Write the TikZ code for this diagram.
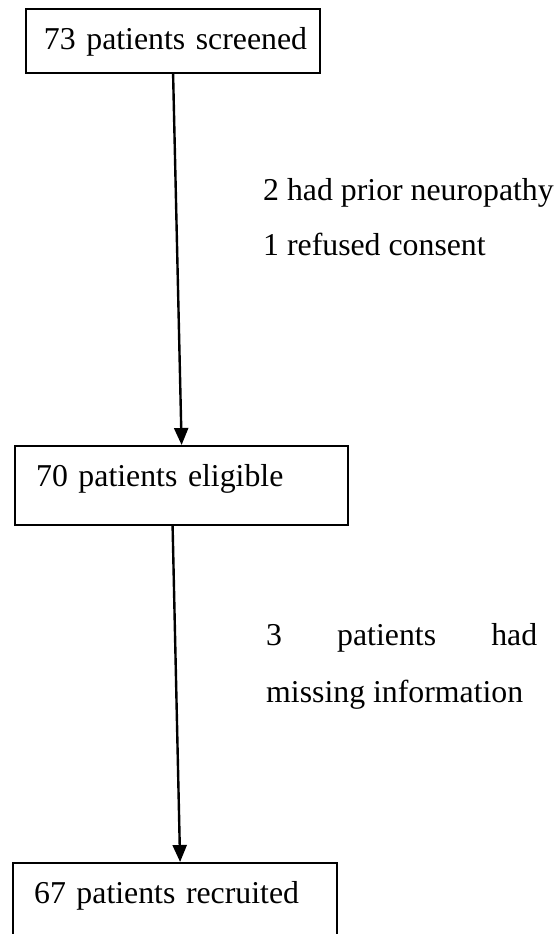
\documentclass[tikz,border=0pt]{standalone}
\usepackage{fontspec}
\setmainfont{Liberation Serif}
\usetikzlibrary{arrows.meta,positioning}

\begin{document}
\begin{tikzpicture}[x=1pt, y=-1pt, >={Triangle[length=17pt,width=14pt]},
  font=\fontsize{31.8}{55}\selectfont,
  stagebox/.style={draw, line width=2.2pt, anchor=north west, align=left,
    inner xsep=21pt, inner ysep=19pt, text height=21pt},
  flow/.style={->, line width=2.4pt}]
  \clip (0,0) rectangle (557,934);
  \node[stagebox, inner xsep=13pt, text width=268pt, align=right, text depth=5pt] (screened) at (25,8) {73 patients screened};
  \node[stagebox, text width=291pt, text depth=20pt] (eligible) at (14,445) {70 patients eligible};
  \node[stagebox, text width=282pt, text depth=20pt] (recruited) at (12,862) {67 patients recruited};
  \draw[flow] (screened.south) -- (eligible.north);
  \draw[flow] ([xshift=-9pt]eligible.south) -- ([xshift=5pt]recruited.north);
  % reasons for exclusion
  \node[anchor=north west, align=left, inner sep=0pt] (excluded) at (263,178.5)
    {2 had prior neuropathy\\1 refused consent};
  \node[anchor=north west, text width=271pt, align=justify, inner sep=0pt,
    font=\fontsize{31.8}{57}\selectfont] (missing) at (266,623.3)
    {3 patients had\linebreak missing information};
\end{tikzpicture}
\end{document}
